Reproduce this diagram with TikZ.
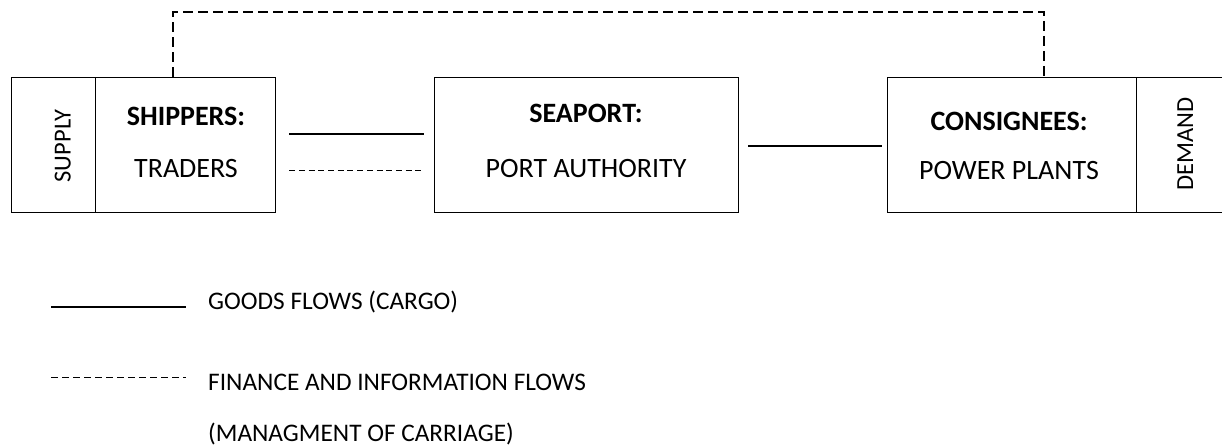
\documentclass[tikz,border=0pt]{standalone}
\usepackage{fontspec}
\setmainfont{Carlito}
\begin{document}
\begin{tikzpicture}[x=1pt,y=-1pt,
  box/.style={draw, line width=1.2pt, minimum height=135pt, inner sep=0pt, anchor=north west},
  boxtext/.style={anchor=base, inner sep=0pt, font=\fontsize{28}{34}\selectfont},
  sidetext/.style={anchor=base, inner sep=0pt, rotate=90, font=\fontsize{24.5}{30}\selectfont},
  legtext/.style={anchor=base west, inner sep=0pt, font=\fontsize{25.3}{30}\selectfont},
  goods/.style={line width=2pt},
  info/.style={line width=1pt, dash pattern=on 6pt off 3.7pt},
  infoleg/.style={line width=1pt, dash pattern=on 7pt off 4pt},
  infotop/.style={line width=1.3pt, dash pattern=on 10pt off 5pt}]
\useasboundingbox (0,0) rectangle (1222,446);
% boxes
\node[box, minimum width=84pt] (supply) at (11,77) {};
\node[box, minimum width=180pt] (shippers) at (95,77) {};
\node[box, minimum width=304pt] (seaport) at (434,77) {};
\node[box, minimum width=249pt] (consignees) at (887,77) {};
\node[box, minimum width=88pt] (demand) at (1136,77) {};
% texts
\node[sidetext] (tsupply) at (70.5,146) {SUPPLY};
\node[boxtext] (tship) at (186,126) {\textbf{SHIPPERS:}};
\node[boxtext] (ttrad) at (186,178) {TRADERS};
\node[boxtext] (tsea) at (586,123) {\textbf{SEAPORT:}};
\node[boxtext] (tport) at (586,178) {PORT AUTHORITY};
\node[boxtext] (tcons) at (1009,131) {\textbf{CONSIGNEES:}};
\node[boxtext] (tpow) at (1009,180) {POWER PLANTS};
\node[sidetext] (tdemand) at (1193,144) {DEMAND};
% connectors
\draw[goods, shorten <=13pt, shorten >=10pt] (shippers.east |- 0,134) -- (seaport.west |- 0,134);
\draw[info, shorten <=13pt, shorten >=10pt] (shippers.east |- 0,171) -- (seaport.west |- 0,171);
\draw[goods, shorten <=9pt, shorten >=5pt] (seaport.east |- 0,146) -- (consignees.west |- 0,146);
\coordinate (tl) at (173,12);
\coordinate (tr) at (1044,12);
\draw[infotop] (shippers.north -| tl) -- (tl) -- (tr) -- (consignees.north -| tr);
% legend
\coordinate (g1) at (51,306.5);
\coordinate (g2) at (186,306.5);
\draw[goods] (g1) -- (g2);
\node[legtext] (lg) at (208,309.5) {GOODS FLOWS (CARGO)};
\coordinate (f1) at (51,377);
\coordinate (f2) at (186,377);
\draw[infoleg] (f1) -- (f2);
\node[legtext] (lf) at (208,390) {FINANCE AND INFORMATION FLOWS};
\node[legtext] (lm) at (208,441.5) {(MANAGMENT OF CARRIAGE)};
\end{tikzpicture}
\end{document}
